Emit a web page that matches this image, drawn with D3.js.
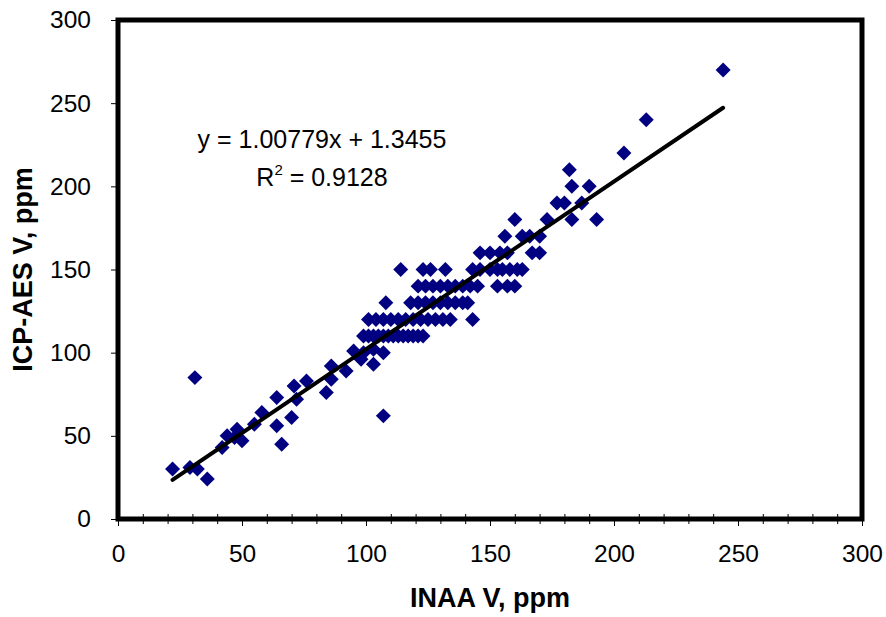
<!DOCTYPE html>
<html>
<head>
<meta charset="utf-8">
<script src="https://cdn.jsdelivr.net/npm/d3@7"></script>
<style>
  body { margin: 0; background: #fff; }
  svg { display: block; font-family: "Liberation Sans", Arial, sans-serif; }
</style>
</head>
<body>
<div id="container"></div>
<script>
// INAA vs ICP-AES vanadium scatter with linear fit

const inaaV = [
    22, 29, 32, 36, 31,
    42, 44, 47, 48, 50,
    55, 58, 64, 64, 66, 70, 72, 71, 76,
    84, 86, 86, 92, 95, 99, 103, 103, 107, 98, 107,
    99, 101, 103, 105, 107, 109, 111, 113, 115, 117, 119, 121, 123,
    101, 104, 107, 110, 113, 116, 119, 122, 125, 128, 131, 134, 143,
    108, 118, 121, 124, 127, 130, 133, 136, 139, 141,
    121, 124, 127, 130, 133, 136, 139, 142, 145, 153, 157, 160,
    114, 123, 126, 132, 143, 146, 150, 153, 155, 158, 161, 163,
    146, 150, 154, 157, 167, 170,
    156, 163, 166, 170,
    160, 173, 183, 193,
    177, 180, 187,
    183, 190,
    182, 204, 213, 244
]
const icpV = [
    30, 31, 30, 24, 85,
    43, 50, 49, 54, 47,
    57, 64, 73, 56, 45, 61, 72, 80, 83,
    76, 84, 92, 89, 101, 100, 93, 102, 100, 96, 62,
    110, 110, 110, 110, 110, 110, 110, 110, 110, 110, 110, 110, 110,
    120, 120, 120, 120, 120, 120, 120, 120, 120, 120, 120, 120, 120,
    130, 130, 130, 130, 130, 130, 130, 130, 130, 130,
    140, 140, 140, 140, 140, 140, 140, 140, 140, 140, 140, 140,
    150, 150, 150, 150, 150, 150, 150, 150, 150, 150, 150, 150,
    160, 160, 160, 160, 160, 160,
    170, 170, 170, 170,
    180, 180, 180, 180,
    190, 190, 190,
    200, 200,
    210, 220, 240, 270
]

// fit shown on the chart
const fitSlope = 1.00779
const fitIntercept = 1.3455
const fitRange = [22, 244]
const fitLabel = "y = 1.00779x + 1.3455"
const r2Value = "0.9128"

const majorTicks = [0, 50, 100, 150, 200, 250, 300]
const minorTicks = d3.range(0, 301, 10).filter(v => v % 50 != 0)

const width = 886,
    height = 617
const plot = { left: 118, right: 862, top: 20, bottom: 519 }

const svg = d3.select("#container")
    .append("svg")
    .attr("width", width)
    .attr("height", height)

const xScale = d3.scaleLinear().domain([0, 300]).range([plot.left, plot.right])
const yScale = d3.scaleLinear().domain([0, 300]).range([plot.bottom, plot.top])

// minor ticks crossing the x axis
svg.append("g")
    .attr("transform", `translate(0,${plot.bottom - 5})`)
    .call(d3.axisBottom(xScale).tickValues(minorTicks).tickSize(10).tickFormat(""))
    .call(g => g.select(".domain").remove())

const xAxis = svg.append("g")
    .attr("transform", `translate(0,${plot.bottom})`)
    .call(d3.axisBottom(xScale).tickValues(majorTicks).tickSize(7).tickPadding(19))
xAxis.select(".domain").remove()

const yAxis = svg.append("g")
    .attr("transform", `translate(${plot.left},0)`)
    .call(d3.axisLeft(yScale).tickValues(majorTicks).tickSize(7).tickPadding(20))
yAxis.select(".domain").remove()

svg.selectAll(".tick text")
    .attr("font-size", 24.5)
    .attr("font-family", "Liberation Sans, Arial, sans-serif")
    .style("fill", "#000")
svg.selectAll(".tick line").style("stroke", "#000")

// points
const diamond = d3.symbol().type(d3.symbolSquare).size(112)
svg.append("g")
    .selectAll("path")
    .data(inaaV.map((x, i) => [x, icpV[i]]))
    .enter()
    .append("path")
    .attr("d", diamond)
    .attr("transform", d => `translate(${xScale(d[0])},${yScale(d[1])}) rotate(45)`)
    .style("fill", "#000080")

// trend line
const line = d3.line()
    .x(d => xScale(d))
    .y(d => yScale(fitSlope * d + fitIntercept))
svg.append("path")
    .attr("d", line(fitRange))
    .style("fill", "none")
    .style("stroke", "#000")
    .style("stroke-width", 4)
    .style("stroke-linecap", "round")

// frame
svg.append("rect")
    .attr("x", plot.left)
    .attr("y", plot.top)
    .attr("width", plot.right - plot.left)
    .attr("height", plot.bottom - plot.top)
    .style("fill", "none")
    .style("stroke", "#000")
    .style("stroke-width", 5)

// equation
const eq = svg.append("g")
    .attr("font-size", 25)
    .attr("text-anchor", "middle")
eq.append("text")
    .attr("x", 322)
    .attr("y", 148)
    .text(fitLabel)
const r2 = eq.append("text")
    .attr("x", 322)
    .attr("y", 186)
r2.append("tspan").text("R")
r2.append("tspan").attr("font-size", 15).attr("dy", -11).text("2")
r2.append("tspan").attr("dy", 11).text(" = " + r2Value)

// axis titles
svg.append("text")
    .attr("x", (plot.left + plot.right) / 2)
    .attr("y", 607)
    .attr("text-anchor", "middle")
    .attr("font-size", 27)
    .attr("font-weight", "bold")
    .text("INAA V, ppm")

svg.append("text")
    .attr("transform", `translate(32,${(plot.top + plot.bottom) / 2}) rotate(-90)`)
    .attr("text-anchor", "middle")
    .attr("font-size", 27)
    .attr("font-weight", "bold")
    .text("ICP-AES V, ppm")
</script>
</body>
</html>
